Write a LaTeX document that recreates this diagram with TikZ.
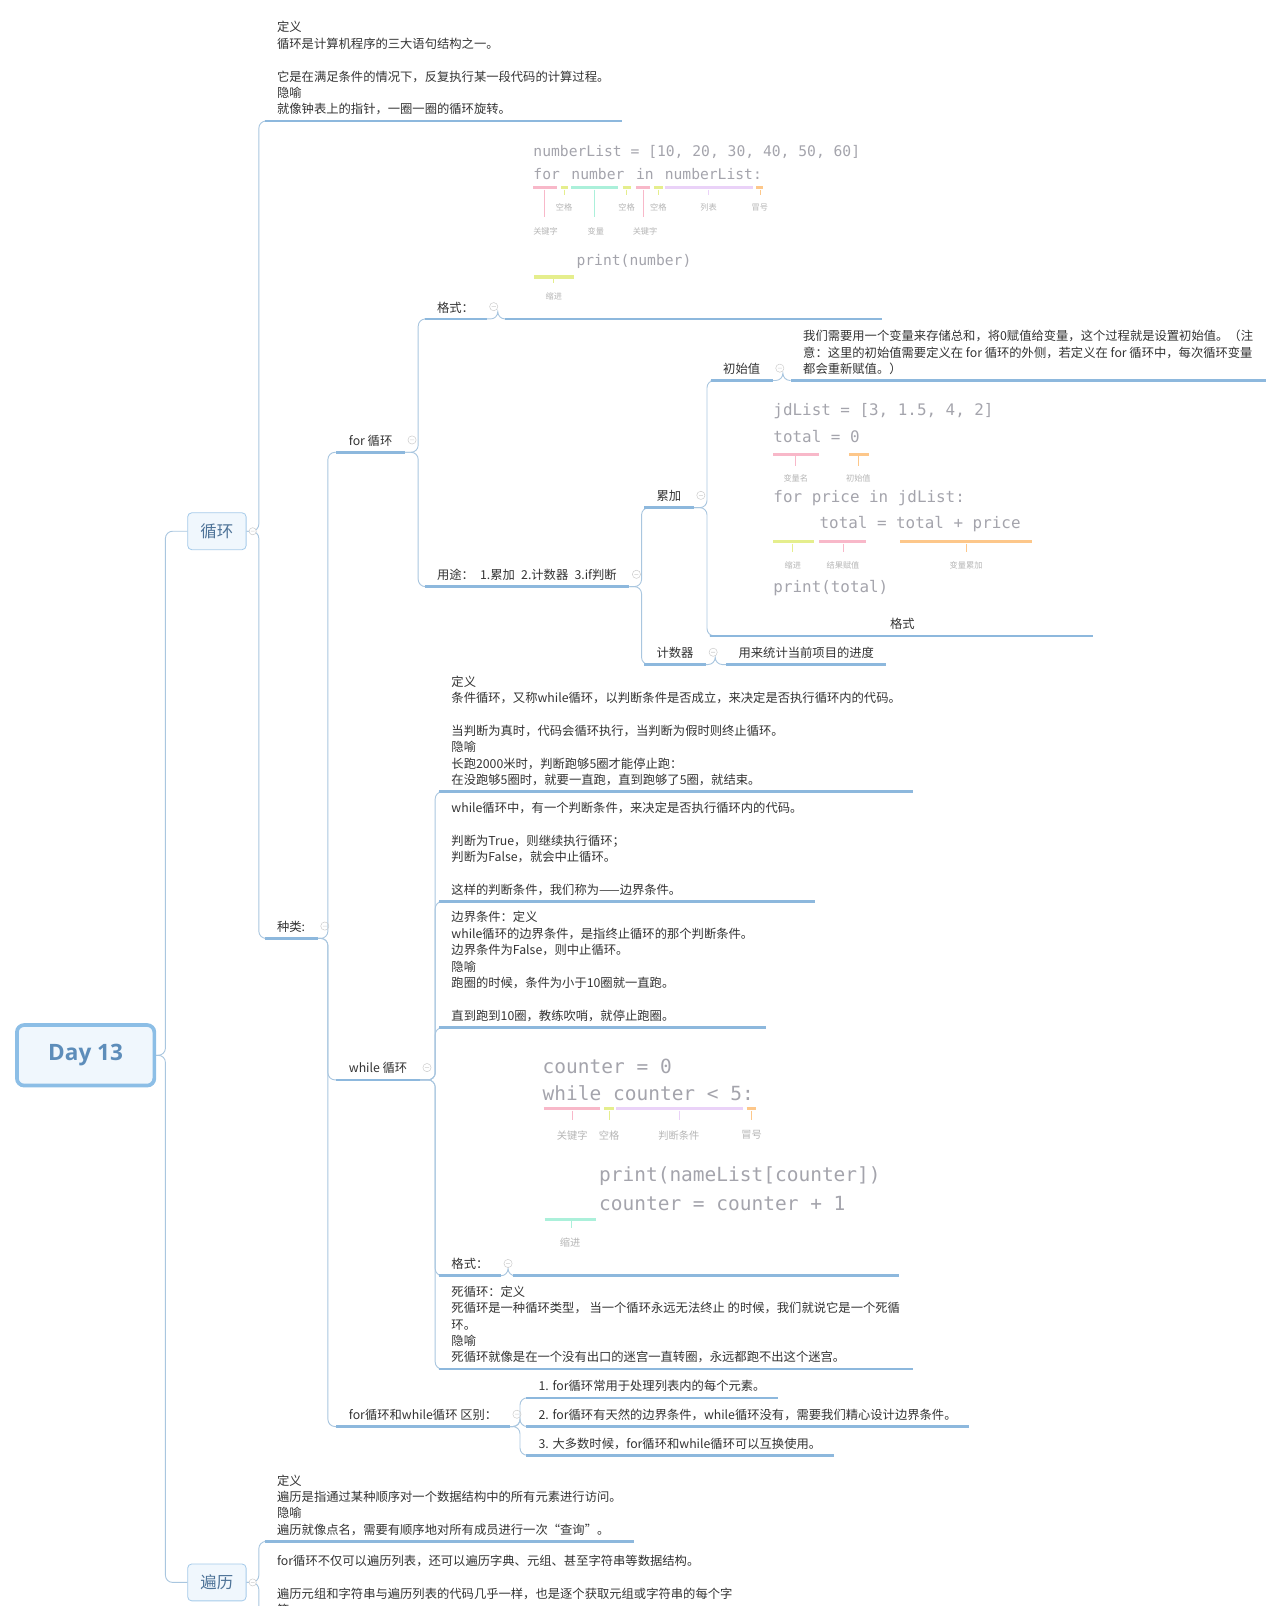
\documentclass[tikz,border=0pt]{standalone}
\usepackage{fontspec}
\setmainfont{Noto Sans CJK SC}
\newfontfamily\codefont{DejaVu Sans Mono}
\newfontfamily\dayfont{Open Sans}
\usetikzlibrary{calc,positioning}

\definecolor{linecol}{HTML}{A9C6DF}
\definecolor{ulcol}{HTML}{8DB8DD}
\definecolor{txtcol}{HTML}{333333}
\definecolor{codecol}{HTML}{A4A4AC}
\definecolor{notecol}{HTML}{B5B5B5}
\definecolor{mpink}{HTML}{F8B8C9}
\definecolor{myell}{HTML}{E5EE8D}
\definecolor{mmint}{HTML}{ABF0DA}
\definecolor{mlav}{HTML}{EAD2F8}
\definecolor{morng}{HTML}{FDC78A}
\definecolor{boxfill}{HTML}{F0F7FD}
\definecolor{boxline}{HTML}{A6CBEA}
\definecolor{rootline}{HTML}{8CBEE6}
\definecolor{roottxt}{HTML}{5D8DBA}
\definecolor{headtxt}{HTML}{4E7398}

\tikzset{
  topic/.style={anchor=south west, inner xsep=12pt, inner ysep=5.5pt, align=left,
    text=txtcol, font=\fontsize{12}{16}\selectfont},
  headbox/.style={draw=boxline, fill=boxfill, rounded corners=4pt, line width=0.8pt,
    minimum width=57pt, minimum height=36pt, text=headtxt, font=\fontsize{16}{16}\selectfont},
  rootbox/.style={draw=rootline, fill=boxfill, rounded corners=7pt, line width=3.6pt,
    minimum width=134pt, minimum height=59pt, text=roottxt,
    font=\dayfont\bfseries\fontsize{22}{22}\selectfont},
  imgbox/.style={anchor=south west, inner sep=0pt},
  uline/.style={ulcol, line width=2.6pt},
  link/.style={linecol, line width=0.9pt, rounded corners=7pt},
  foldc/.style={gray!40, line width=0.5pt},
  codea/.style={anchor=west, inner sep=0pt, text=codecol, font=\codefont\fontsize{14.3}{14}\selectfont},
  codeb/.style={codea, font=\codefont\fontsize{15.5}{16}\selectfont},
  codec/.style={codea, font=\codefont\fontsize{19}{19}\selectfont},
  codetag/.style={inner sep=0pt, text=notecol, font=\fontsize{8}{8}\selectfont},
  hlbar/.style={line width=3.5pt},
  hltick/.style={line width=0.8pt},
}

\begin{document}
\begin{tikzpicture}[x=1pt, y=-1pt]
\useasboundingbox (0,0) rectangle (1248,1566);
\clip (0,0) rectangle (1248,1566);

% main topics
\node[rootbox] (root) at (83.5,1029) {Day 13};
\node[headbox] (loop) at (211.5,518) {循环};
\node[headbox] (trav) at (211.5,1543) {遍历};

% loop
\node[topic] (ldef) at (258,118) {定义\\循环是计算机程序的三大语句结构之一。\\~\\它是在满足条件的情况下，反复执行某一段代码的计算过程。\\隐喻\\就像钟表上的指针，一圈一圈的循环旋转。};
\node[topic] (kind) at (258,915) {种类:};
\node[topic] (forl) at (328,441) {for 循环};
\node[topic] (whilel) at (328,1053) {while 循环};
\node[topic] (diff) at (328,1391) {for循环和while循环 区别：};

% for loop
\node[topic] (fmta) at (414,311) {格式：};
\node[imgbox, minimum width=368pt, minimum height=190pt] (fcode) at (492,311) {};
\node[topic] (use) at (414,572) {用途：\hspace{6pt}1.累加\hspace{6pt}2.计数器\hspace{6pt}3.if判断};
\node[topic] (accum) at (628,495) {累加};
\node[topic] (cnt) at (628,648) {计数器};
\node[topic] (init) at (693,371) {初始值};
\node[topic] (initd) at (771,371) {我们需要用一个变量来存储总和，将0赋值给变量，这个过程就是设置初始值。（注\\意：这里的初始值需要定义在 for 循环的外侧，若定义在 for 循环中，每次循环变量\\都会重新赋值。）};
\node[imgbox, minimum width=373pt, minimum height=245pt] (acode) at (692,620) {};
\node[text=txtcol, font=\fontsize{12}{16}\selectfont] (acap) at (880,608) {格式};
\node[topic] (cntd) at (708,648) {用来统计当前项目的进度};

% while loop
\node[topic] (wdef) at (428,772) {定义\\条件循环，又称while循环，以判断条件是否成立，来决定是否执行循环内的代码。\\~\\当判断为真时，代码会循环执行，当判断为假时则终止循环。\\隐喻\\长跑2000米时，判断跑够5圈才能停止跑：\\在没跑够5圈时，就要一直跑，直到跑够了5圈，就结束。};
\node[topic] (wcond) at (428,879) {while循环中，有一个判断条件，来决定是否执行循环内的代码。\\~\\判断为True，则继续执行循环；\\判断为False，就会中止循环。\\~\\这样的判断条件，我们称为——边界条件。};
\node[topic] (wbound) at (428,1002) {边界条件：定义\\while循环的边界条件，是指终止循环的那个判断条件。\\边界条件为False，则中止循环。\\隐喻\\跑圈的时候，条件为小于10圈就一直跑。\\~\\直到跑到10圈，教练吹哨，就停止跑圈。};
\node[topic] (fmtb) at (428,1244) {格式：};
\node[imgbox, minimum width=376pt, minimum height=235pt] (wcode) at (500,1244) {};
\node[topic] (dead) at (428,1335) {死循环：定义\\死循环是一种循环类型， 当一个循环永远无法终止 的时候，我们就说它是一个死循\\环。\\隐喻\\死循环就像是在一个没有出口的迷宫一直转圈，永远都跑不出这个迷宫。};

% difference
\node[topic] (d1) at (513,1363) {1. for循环常用于处理列表内的每个元素。};
\node[topic] (d2) at (513,1391) {2. for循环有天然的边界条件，while循环没有，需要我们精心设计边界条件。};
\node[topic] (d3) at (513,1419) {3. 大多数时候，for循环和while循环可以互换使用。};

% traversal
\node[topic] (tdef) at (258,1503) {定义\\遍历是指通过某种顺序对一个数据结构中的所有元素进行访问。\\隐喻\\遍历就像点名，需要有顺序地对所有成员进行一次“查询”。};
\node[topic] (tmore) at (258,1581) {for循环不仅可以遍历列表，还可以遍历字典、元组、甚至字符串等数据结构。\\~\\遍历元组和字符串与遍历列表的代码几乎一样，也是逐个获取元组或字符串的每个字\\符。};

% connectors
\foreach \a/\b in {root/loop, root/trav}
  \draw[link] (\a.east) -- ++(9,0) |- (\b.west);
\foreach \a/\b in {loop/ldef, loop/kind, trav/tdef, trav/tmore}
  \draw[link] (\a.east) -- ++(12,0) |- (\b.south west);
\foreach \a/\b/\d in {kind/forl/10, kind/whilel/10, kind/diff/10, forl/fmta/13, forl/use/13,
    fmta/fcode/11, use/accum/12, use/cnt/12, accum/init/13, accum/acode/13, init/initd/10,
    cnt/cntd/9, whilel/wdef/15, whilel/wcond/15, whilel/wbound/15, whilel/fmtb/15,
    whilel/dead/15, fmtb/wcode/7, diff/d1/10, diff/d2/10, diff/d3/10}
  \draw[link] (\a.south east) -- ++(\d,0) |- (\b.south west);

% underlines
\foreach \n in {ldef,kind,forl,whilel,diff,fmta,fcode,use,accum,cnt,init,initd,acode,cntd,
    wdef,wcond,wbound,fmtb,wcode,dead,d1,d2,d3,tdef,tmore}
  \draw[uline] (\n.south west) -- (\n.south east);

% fold buttons
\foreach \n in {kind,forl,whilel,diff,fmta,use,accum,init,cnt,fmtb}
  \draw[foldc] ($(\n.south east)+(7,-12)$) circle (4) ++(-2,0) -- ++(4,0);
\foreach \n in {loop,trav}
  \draw[foldc, fill=white] ($(\n.east)+(6,0)$) circle (3.5) ++(-1.8,0) -- ++(3.6,0);

% code: for loop
\node[codea] (c1a) at (520,148) {numberList = [10, 20, 30, 40, 50, 60]};
\node[codea] (c1b) at (520,170) {for};
\node[codea] (c1c) at (557,170) {number};
\node[codea] (c1d) at (620,170) {in};
\node[codea] (c1e) at (648,170) {numberList:};
\node[codea] (c1f) at (562,255) {print(number)};
\foreach \c/\a/\b in {mpink/520/543, myell/547/554, mmint/557/603, myell/607/615,
    mpink/620/634, myell/638/646, mlav/648/734, morng/737/744}
  \draw[hlbar,\c] (\a,183) -- (\b,183);
\foreach \c/\x in {mpink/531, mmint/580, mpink/627}
  \draw[hltick,\c] (\x,185) -- (\x,212);
\foreach \c/\x in {myell/550, myell/611, myell/642, mlav/691, morng/741}
  \draw[hltick,\c] (\x,185) -- (\x,190);
\foreach \t/\x in {空格/550, 空格/611, 空格/642, 列表/691, 冒号/741}
  \node[codetag] (ta\x) at (\x,202) {\t};
\foreach \t/\x in {关键字/532, 变量/581, 关键字/629}
  \node[codetag] (tb\x) at (\x,226) {\t};
\draw[hlbar,myell] (521,270) -- (560,270);
\draw[hltick,myell] (540,272) -- (540,276);
\node[codetag] (tc540) at (540,289) {缩进};

% code: sum
\node[codeb] (c2a) at (754,401) {jdList = [3, 1.5, 4, 2]};
\node[codeb] (c2b) at (754,426) {total = 0};
\node[codeb] (c2c) at (754,486) {for price in jdList:};
\node[codeb] (c2d) at (799,511) {total = total + price};
\node[codeb] (c2e) at (754,573) {print(total)};
\foreach \c/\a/\b in {mpink/754/799, morng/828/847}
  \draw[hlbar,\c] (\a,443) -- (\b,443);
\foreach \c/\x in {mpink/776, morng/837}
  \draw[hltick,\c] (\x,445) -- (\x,454);
\foreach \t/\x in {变量名/776, 初始值/837}
  \node[codetag] (td\x) at (\x,466) {\t};
\foreach \c/\a/\b in {myell/754/794, mpink/799/844, morng/878/1006}
  \draw[hlbar,\c] (\a,528) -- (\b,528);
\foreach \c/\x in {myell/773, mpink/822, morng/942}
  \draw[hltick,\c] (\x,530) -- (\x,538);
\foreach \t/\x in {缩进/773, 结果赋值/822, 变量累加/942}
  \node[codetag] (te\x) at (\x,551) {\t};

% code: while loop
\node[codec] (c3a) at (529,1040) {counter = 0};
\node[codec] (c3b) at (529,1066) {while counter < 5:};
\node[codec] (c3c) at (584,1147) {print(nameList[counter])};
\node[codec] (c3d) at (584,1174) {counter = counter + 1};
\foreach \c/\a/\b in {mpink/530/585, myell/589/599, mlav/601/724, morng/728/737}
  \draw[hlbar,\c] (\a,1081) -- (\b,1081);
\foreach \c/\x in {mpink/558, myell/594, mlav/662, morng/733}
  \draw[hltick,\c] (\x,1083) -- (\x,1092);
\foreach \t/\x in {关键字/558, 空格/594, 判断条件/662, 冒号/733}
  \node[codetag, font=\fontsize{10}{10}\selectfont] (tf\x) at (\x,1107) {\t};
\draw[hlbar,mmint] (531,1189) -- (581,1189);
\draw[hltick,mmint] (557,1191) -- (557,1197);
\node[codetag, font=\fontsize{10}{10}\selectfont] (tg556) at (556,1212) {缩进};
\end{tikzpicture}
\end{document}
